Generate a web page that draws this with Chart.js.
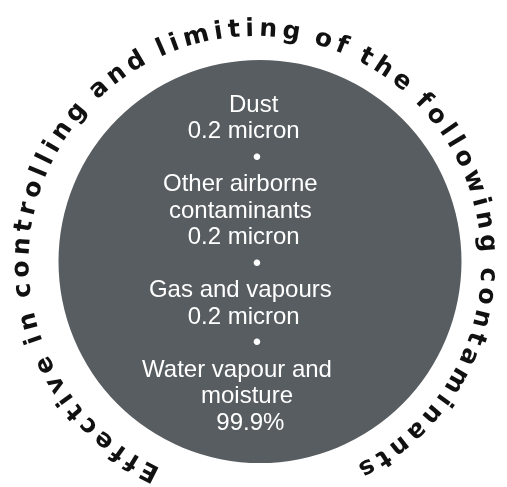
<!DOCTYPE html>
<html>
<head>
<meta charset="utf-8">
<script src="https://cdn.jsdelivr.net/npm/chart.js@4"></script>
<style>
  body { margin: 0; background: #fff; }
  #wrap { width: 507px; height: 487px; }
</style>
</head>
<body>
<div id="wrap"><canvas id="filtro"></canvas></div>
<script>
var labels = ["Contaminants removed"];
var values = [1];
var ringText = "Effective in controlling and limiting of the following contaminants";
var innerLines = [
  "Dust ",
  "0.2 micron    ",
  "\u2022",
  "Other airborne     ",
  "contaminants     ",
  "0.2 micron    ",
  "\u2022",
  "Gas and vapours     ",
  "0.2 micron    ",
  "\u2022",
  "Water vapour and      ",
  "moisture   ",
  "99.9%  "
];

var textosPlugin = {
  id: "textos",
  afterDraw: function (chart) {
    var c = chart.ctx;
    var arc = chart.getDatasetMeta(0).data[0];
    var cx = arc.x, cy = arc.y;

    // texto interior
    c.save();
    c.fillStyle = "#ffffff";
    c.font = "24px 'Liberation Sans', Arial, sans-serif";
    c.textAlign = "center";
    c.textBaseline = "middle";
    var y0 = 105;
    for (var i = 0; i < innerLines.length; i++) {
      c.fillText(innerLines[i], cx - 3, y0 + i * 26.5);
    }
    c.restore();

    // texto curvo alrededor (espaciado proporcional)
    c.save();
    c.fillStyle = "#111111";
    c.font = "bold 25px 'DejaVu Sans', sans-serif";
    c.textAlign = "center";
    c.textBaseline = "middle";
    var rx = cx - 5, ry = cy + 1, R = 233;
    var start = 116.8 * Math.PI / 180;
    var end = (61.4 + 360) * Math.PI / 180;
    var n = ringText.length;
    var w = [];
    for (var k = 0; k < n; k++) {
      var wk = c.measureText(ringText[k]).width;
      w.push(ringText[k] === " " ? wk * 0.5 : wk);
    }
    var base = 0;
    for (k = 0; k < n - 1; k++) base += (w[k] + w[k + 1]) / 2;
    var track = ((end - start) * R - base) / (n - 1);
    var s = 0;
    for (var j = 0; j < n; j++) {
      if (j > 0) s += (w[j - 1] + w[j]) / 2 + track;
      var a = start + s / R;
      c.save();
      c.translate(rx + R * Math.cos(a), ry + R * Math.sin(a));
      c.rotate(a + Math.PI / 2);
      c.fillText(ringText[j], 0, 0);
      c.restore();
    }
    c.restore();
  }
};

var ctx = document.getElementById("filtro");
var myChart = new Chart(ctx, {
  type: "pie",
  data: {
    labels: labels,
    datasets: [
      {
        data: values,
        backgroundColor: "#575d60",
        borderWidth: 0
      }
    ]
  },
  options: {
    responsive: true,
    maintainAspectRatio: false,
    animation: false,
    layout: { padding: { top: 60, bottom: 24, left: 50, right: 37 } },
    plugins: { legend: { display: false }, tooltip: { enabled: false } }
  },
  plugins: [textosPlugin]
});
</script>
</body>
</html>
